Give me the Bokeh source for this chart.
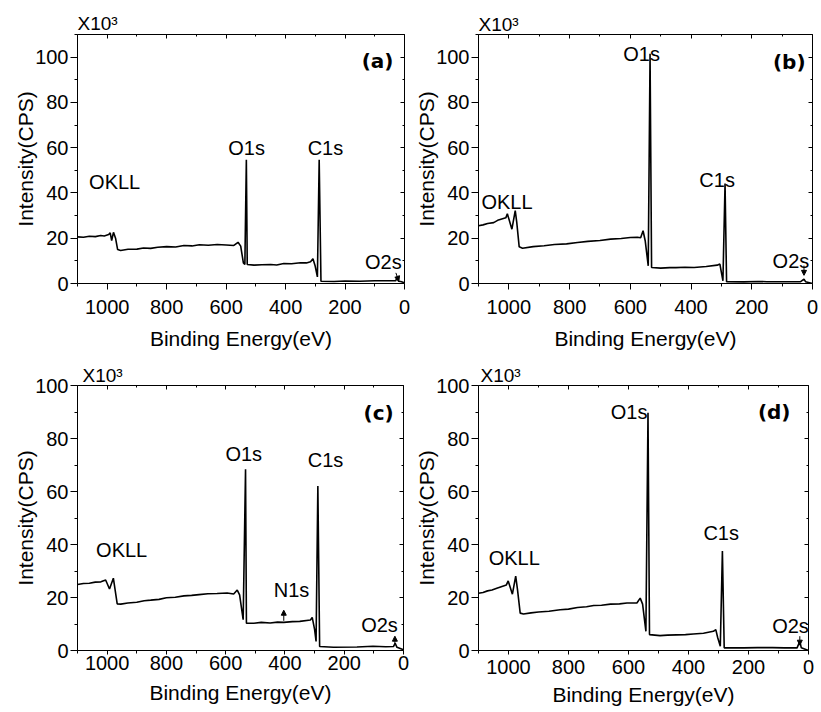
from bokeh.plotting import figure
from bokeh.models import (Range1d, LinearAxis, FixedTicker, Label, Arrow, NormalHead,
                          CustomJSTickFormatter)
from bokeh.layouts import row, column
from bokeh.embed import file_html
from bokeh.resources import INLINE

FONT = "Liberation Sans"

# ---------------- data ----------------
x_major = [0, 200, 400, 600, 800, 1000]
x_minor = [100, 300, 500, 700, 900, 1100]
y_major = [0, 20, 40, 60, 80, 100]
y_minor = [10, 30, 50, 70, 90, 110]

# (a)
a_x = [1100, 1080, 1060, 1040, 1022, 1010, 995, 990, 985, 979, 972, 965, 955, 930, 900, 878, 854, 830,
       800, 770, 742, 715, 690, 660, 630, 600, 574, 560, 551, 542, 537, 532, 529, 506, 480, 450, 430,
       406, 380, 350, 330, 316, 308, 301, 293, 287, 281, 237, 200, 150, 100, 69, 30, 25, 20, 13, 0]
a_y = [20.6, 20.4, 20.9, 20.7, 21.2, 21.0, 21.6, 22.4, 19.0, 22.6, 20.0, 15.0, 14.6, 15.1, 15.2, 15.7, 15.5, 16.0,
       16.3, 16.1, 16.8, 16.6, 17.1, 16.9, 17.2, 17.0, 16.8, 18.2, 16.5, 9.1, 8.4, 54.7, 8.4, 8.1, 8.3, 8.4, 8.2,
       8.8, 8.7, 9.2, 9.1, 9.6, 10.9, 8.0, 2.9, 54.7, 1.0, 0.9, 1.1, 1.0, 1.2, 1.2, 1.2, 2.5, 1.0, 0.9, 0.3]
a_lbl_text = ["OKLL", "O1s", "C1s", "O2s"]
a_lbl_x = [975, 531, 266, 71]
a_lbl_y = [45, 60, 60, 9.7]
a_arrow = [29, 4.7, 19, 1.0]   # x_start, y_start, x_end, y_end

# (b)
b_x = [1100, 1085, 1070, 1050, 1037, 1010, 1005, 990, 979, 974, 966, 955, 920, 884, 850, 810, 774, 740,
       700, 665, 630, 600, 577, 566, 558, 551, 541, 535, 530, 500, 470, 450, 420, 390, 350, 314, 305, 295,
       288, 283, 226, 180, 150, 100, 39, 28, 23, 0]
b_y = [25.5, 25.9, 26.5, 26.9, 27.9, 29.0, 30.8, 24.0, 32.2, 27.0, 16.2, 15.6, 16.3, 16.7, 17.2, 17.5, 18.1, 18.6,
       19.0, 19.6, 19.9, 20.3, 20.4, 20.2, 23.3, 18.9, 7.8, 101.5, 7.1, 6.8, 7.0, 7.0, 7.2, 7.1, 7.5, 8.1, 8.6, 1.2,
       44.2, 0.8, 0.7, 0.9, 0.8, 0.8, 0.8, 1.9, 0.8, 0.0]
b_lbl_text = ["OKLL", "O1s", "C1s", "O2s"]
b_lbl_x = [1006, 563, 314, 71]
b_lbl_y = [35.8, 101.5, 45.9, 10.0]
b_arrow = [28, 7.9, 28, 3.6]

# (c)
c_x = [1100, 1080, 1060, 1040, 1021, 1005, 992, 979, 966, 954, 930, 900, 875, 853, 825, 800, 770, 741,
       715, 690, 660, 629, 595, 573, 561, 553, 541, 533, 530, 505, 480, 450, 425, 404, 375, 350, 314, 308,
       300, 295, 289, 283, 236, 157, 103, 60, 34, 28, 22, 0]
c_y = [24.9, 25.3, 25.4, 25.8, 25.9, 26.6, 23.2, 27.3, 17.6, 17.5, 17.9, 18.2, 18.8, 19.0, 19.3, 19.9, 20.1, 20.6,
       20.8, 21.1, 21.4, 21.5, 21.7, 21.3, 22.8, 21.0, 11.6, 68.4, 10.3, 10.3, 10.6, 10.4, 10.7, 10.6, 10.9, 11.0,
       11.5, 12.5, 8.0, 3.4, 62.1, 1.5, 1.25, 1.3, 1.6, 1.4, 1.5, 2.75, 1.2, 0.3]
c_lbl_text = ["OKLL", "O1s", "C1s", "N1s", "O2s"]
c_lbl_x = [951, 539, 263, 378, 81]
c_lbl_y = [38, 74, 71.75, 22.75, 9.6]
c_arrow = [404, 11.2, 404, 15.2]
c_arrow2 = [29, 2.0, 29, 5.4]

# (d)
d_x = [1100, 1085, 1070, 1055, 1039, 1007, 1001, 987, 976, 970, 961, 950, 925, 900, 865, 828, 800, 770,
       740, 716, 690, 660, 630, 605, 572, 561, 553, 542, 535, 530, 495, 470, 440, 410, 384, 350, 317, 309,
       303, 294, 287, 281, 216, 170, 120, 80, 38, 29, 24, 0]
d_y = [21.6, 21.9, 22.5, 22.8, 23.5, 24.75, 26.25, 21.25, 28.1, 23.0, 14.1, 13.75, 14.2, 14.5, 14.8, 15.4, 15.6, 16.2,
       16.5, 17.0, 17.1, 17.5, 17.6, 17.9, 17.9, 19.75, 17.5, 7.25, 89.75, 6.0, 5.6, 5.8, 5.9, 6.0, 6.25, 6.5, 7.25,
       7.9, 5.0, 1.6, 37.5, 1.0, 1.0, 1.1, 1.1, 1.0, 1.0, 3.5, 1.0, 0.0]
d_lbl_text = ["OKLL", "O1s", "C1s", "O2s"]
d_lbl_x = [981, 598, 291, 60]
d_lbl_y = [34.75, 90, 44.5, 9.1]
d_arrow = [29, 5.4, 29, 2.0]

tags = ["(a)", "(b)", "(c)", "(d)"]
tag_x = [37, 23, 33, 60]
tag_y = [98.5, 98.0, 89.5, 90.0]

factor_text = "X10\u00b3"
x_title = "Binding Energy(eV)"
y_title = "Intensity(CPS)"


def panel(xs, ys, ymax, lbl_text, lbl_x, lbl_y, tag, tx, ty, arrows,
          w, h, bl, br, bt, bb, bot_tick_out, bot_standoff, bot_lab_standoff,
          fac_dx, fac_standoff):
    assert len(xs) == len(ys)
    p = figure(width=w, height=h, x_range=Range1d(1100, 0), y_range=Range1d(0, ymax),
               output_backend="svg", toolbar_location=None, title=factor_text,
               min_border_left=bl, min_border_right=br, min_border_top=bt, min_border_bottom=bb)
    p.title.align = "left"
    p.title.offset = fac_dx
    p.title.standoff = fac_standoff
    p.title.text_font = FONT
    p.title.text_font_style = "normal"
    p.title.text_font_size = "19px"
    p.title.text_color = "black"
    p.grid.visible = False
    p.outline_line_color = None
    p.background_fill_color = "white"
    p.border_fill_color = "white"

    p.line(xs, ys, line_color="black", line_width=1.6)

    xa = p.xaxis[0]
    xa.ticker = FixedTicker(ticks=x_major, minor_ticks=x_minor)
    xa.axis_label = x_title
    xa.axis_label_text_font = FONT
    xa.axis_label_text_font_style = "normal"
    xa.axis_label_text_font_size = "21px"
    xa.axis_label_standoff = bot_lab_standoff
    xa.major_label_text_font = FONT
    xa.major_label_text_font_size = "20px"
    xa.major_label_standoff = bot_standoff
    xa.major_tick_out = bot_tick_out
    xa.major_tick_in = 0
    xa.minor_tick_out = 3
    xa.minor_tick_in = 0

    ya = p.yaxis[0]
    ya.ticker = FixedTicker(ticks=y_major, minor_ticks=[v for v in y_minor if v <= ymax])
    ya.axis_label = y_title
    ya.axis_label_text_font = FONT
    ya.axis_label_text_font_style = "normal"
    ya.axis_label_text_font_size = "21px"
    ya.axis_label_standoff = -5
    ya.major_label_text_font = FONT
    ya.major_label_text_font_size = "20px"
    ya.major_label_standoff = 2
    ya.major_tick_out = 7
    ya.major_tick_in = 0
    ya.minor_tick_out = 3
    ya.minor_tick_in = 0

    for ax in (xa, ya):
        ax.axis_line_color = "black"
        ax.major_tick_line_color = "black"
        ax.minor_tick_line_color = "black"
        ax.major_label_text_color = "black"
        ax.axis_label_text_color = "black"

    empty = CustomJSTickFormatter(code="return ''")
    top = LinearAxis(ticker=FixedTicker(ticks=x_major, minor_ticks=x_minor), formatter=empty,
                     major_tick_in=4, major_tick_out=0, minor_tick_in=2, minor_tick_out=0,
                     major_label_standoff=0, major_label_text_font_size="1px",
                     axis_line_color="black", major_tick_line_color="black",
                     minor_tick_line_color="black")
    right = LinearAxis(ticker=FixedTicker(ticks=y_major, minor_ticks=[v for v in y_minor if v <= ymax]),
                       formatter=empty,
                       major_tick_in=4, major_tick_out=0, minor_tick_in=2, minor_tick_out=0,
                       major_label_standoff=0, major_label_text_font_size="1px",
                       axis_line_color="black", major_tick_line_color="black",
                       minor_tick_line_color="black")
    p.add_layout(top, "above")
    p.add_layout(right, "right")

    for t, lx, ly in zip(lbl_text, lbl_x, lbl_y):
        p.add_layout(Label(x=lx, y=ly, text=t, text_align="center", text_baseline="alphabetic",
                           text_font=FONT, text_font_size="20px", text_color="black"))

    p.add_layout(Label(x=tx, y=ty, text=tag, text_align="right", text_baseline="alphabetic",
                       text_font="DejaVu Sans", text_font_style="bold", text_font_size="20px",
                       text_color="black"))

    for a in arrows:
        p.add_layout(Arrow(x_start=a[0], y_start=a[1], x_end=a[2], y_end=a[3],
                           line_color="black", line_width=1,
                           end=NormalHead(size=5, fill_color="black", line_color="black")))
    return p


pa = panel(a_x, a_y, 110, a_lbl_text, a_lbl_x, a_lbl_y, tags[0], tag_x[0], tag_y[0], [a_arrow],
           410, 356, 77, 6, 34, 72, 6, 10, 10, 0, 2)
pb = panel(b_x, b_y, 110, b_lbl_text, b_lbl_x, b_lbl_y, tags[1], tag_x[1], tag_y[1], [b_arrow],
           411, 356, 68, 9, 34, 73, 6, 10, 10, 0, 0)
pc = panel(c_x, c_y, 100, c_lbl_text, c_lbl_x, c_lbl_y, tags[2], tag_x[2], tag_y[2], [c_arrow, c_arrow2],
           410, 356, 77, 7, 27, 62, 4, 1, 8, 5, 0)
pd = panel(d_x, d_y, 100, d_lbl_text, d_lbl_x, d_lbl_y, tags[3], tag_x[3], tag_y[3], [d_arrow],
           411, 356, 68, 13, 29, 60, 4, 5, 6, 2, 0)

layout = column(row(pa, pb), row(pc, pd))
open("out.html", "w").write(file_html(layout, INLINE))
